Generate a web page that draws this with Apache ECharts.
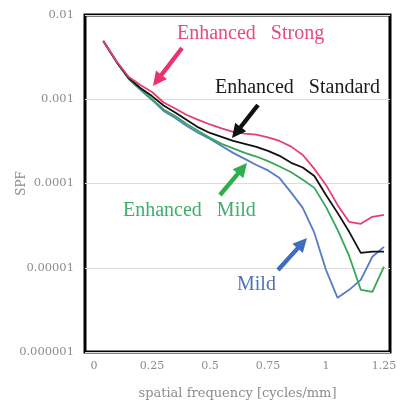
<!DOCTYPE html>
<html>
<head>
<meta charset="utf-8">
<script src="https://cdn.jsdelivr.net/npm/echarts@6/dist/echarts.min.js"></script>
<style>
  html, body { margin: 0; padding: 0; background: #fff; }
  #chart { width: 405px; height: 403px; }
</style>
</head>
<body>
<div id="chart"></div>
<script>
// ---- data ----
const freq = [0.04, 0.1, 0.15, 0.2, 0.25, 0.3, 0.35, 0.4, 0.45, 0.5, 0.55, 0.6, 0.65, 0.7, 0.75, 0.8, 0.85, 0.9, 0.95, 1.0, 1.05, 1.1, 1.15, 1.2, 1.25];
const enhancedStrong = [0.00492, 0.00275, 0.00184, 0.00148, 0.00122, 0.000916, 0.000778, 0.000651, 0.000568, 0.000502, 0.00045, 0.000409, 0.000391, 0.00038, 0.000353, 0.00032, 0.000274, 0.000218, 0.000149, 0.0000962, 0.0000557, 0.000035, 0.0000332, 0.0000402, 0.0000424];
const enhancedStandard = [0.00492, 0.00272, 0.00179, 0.00136, 0.00109, 0.000844, 0.000697, 0.000568, 0.000463, 0.000398, 0.000357, 0.00032, 0.000295, 0.000272, 0.000244, 0.000213, 0.000176, 0.000155, 0.000123, 0.0000732, 0.0000448, 0.0000267, 0.000015, 0.0000155, 0.0000155];
const enhancedMild = [0.00492, 0.0027, 0.00174, 0.00132, 0.00101, 0.000757, 0.000634, 0.000509, 0.000421, 0.000348, 0.000295, 0.000261, 0.000231, 0.000209, 0.000184, 0.000159, 0.000136, 0.000111, 0.0000887, 0.0000528, 0.0000282, 0.0000138, 0.00000547, 0.00000518, 0.0000103];
const mild = [0.00492, 0.0027, 0.00174, 0.00129, 0.000981, 0.000727, 0.0006, 0.000482, 0.000398, 0.000338, 0.000279, 0.000231, 0.000196, 0.000166, 0.000143, 0.000116, 0.000078, 0.0000514, 0.0000259, 0.00000944, 0.0000044, 0.00000547, 0.00000718, 0.0000135, 0.0000177];
const xTicks = [0, 0.25, 0.5, 0.75, 1, 1.25];
const seriesNames = ['Mild', 'Enhanced  Mild', 'Enhanced  Standard', 'Enhanced  Strong'];

// ---- styles ----
const lineColors = ['#5a7cc4', '#35a65a', '#111111', '#e83e72'];
const textColors = ['#4f73b8', '#3fae6c', '#1a1a1a', '#e84a7a'];
const arrowColors = ['#3f6dbf', '#2fae4e', '#111111', '#e8336b'];

const chart = echarts.init(document.getElementById('chart'), null, { renderer: 'canvas' });

function pairs(ys) { return freq.map((f, i) => [f, ys[i]]); }
const allData = [mild, enhancedMild, enhancedStandard, enhancedStrong];

function arrow(tail, head, color) {
  const [x1, y1] = tail, [x2, y2] = head;
  const dx = x2 - x1, dy = y2 - y1;
  const L = Math.hypot(dx, dy);
  const ux = dx / L, uy = dy / L;
  const px = -uy, py = ux;
  const hl = 14, hw = 7, sw = 2.2;
  const bx = x2 - ux * hl, by = y2 - uy * hl;
  const pts = [
    [x1 + px * sw, y1 + py * sw],
    [bx + px * sw, by + py * sw],
    [bx + px * hw, by + py * hw],
    [x2, y2],
    [bx - px * hw, by - py * hw],
    [bx - px * sw, by - py * sw],
    [x1 - px * sw, y1 - py * sw]
  ];
  return { type: 'polygon', z: 100, shape: { points: pts }, style: { fill: color } };
}
function label(text, x, y, color) {
  return { type: 'text', z: 100, x: x, y: y, style: { text: text, fill: color, font: '20px "Liberation Serif"', verticalAlign: 'middle', align: 'left' } };
}

const option = {
  animation: false,
  backgroundColor: '#fff',
  grid: { left: 85, top: 15, width: 305, height: 337, show: true, borderColor: '#000', borderWidth: 3, backgroundColor: 'transparent', containLabel: false, outerBoundsMode: 'none' },
  xAxis: {
    type: 'value', min: -0.0388, max: 1.276,
    name: 'spatial frequency [cycles/mm]', nameLocation: 'middle', nameGap: 35, nameMoveOverlap: false,
    nameTextStyle: { fontFamily: 'DejaVu Serif', fontSize: 13, color: '#8c8c8c' },
    axisLine: { show: false }, axisTick: { show: false }, splitLine: { show: false },
    axisLabel: { customValues: xTicks, formatter: v => String(v), fontFamily: 'DejaVu Serif', fontSize: 11, color: '#8c8c8c', margin: 9 }
  },
  yAxis: {
    type: 'log', logBase: 10, min: 1e-6, max: 1e-2,
    name: 'SPF', nameLocation: 'middle', nameGap: 57, nameMoveOverlap: false,
    nameTextStyle: { fontFamily: 'DejaVu Serif', fontSize: 12, color: '#8c8c8c' },
    axisLine: { show: false }, axisTick: { show: false },
    splitLine: { show: true, lineStyle: { color: '#dcdcdc', width: 1 } },
    axisLabel: {
      fontFamily: 'DejaVu Serif', fontSize: 11.5, color: '#8c8c8c', margin: 11,
      formatter: v => { const e = Math.round(Math.log10(v)); return '0.' + '0'.repeat(-e - 1) + '1'; }
    }
  },
  series: allData.map((d, i) => ({
    name: seriesNames[i], type: 'line', data: pairs(d), showSymbol: false, symbol: 'none',
    lineStyle: { color: lineColors[i], width: 1.8 }, z: 2 + i, silent: true
  })),
  graphic: [
    label('Enhanced   Strong', 177, 34, textColors[3]),
    label('Enhanced   Standard', 215, 88, textColors[2]),
    label('Enhanced   Mild', 123, 211, textColors[1]),
    label('Mild', 237, 285, textColors[0]),
    arrow([182, 48], [153, 86], arrowColors[3]),
    arrow([258, 105], [232, 138], arrowColors[2]),
    arrow([220, 195], [247, 163], arrowColors[1]),
    arrow([278, 270], [307, 238], arrowColors[0])
  ]
};
chart.setOption(option);
</script>
</body>
</html>
